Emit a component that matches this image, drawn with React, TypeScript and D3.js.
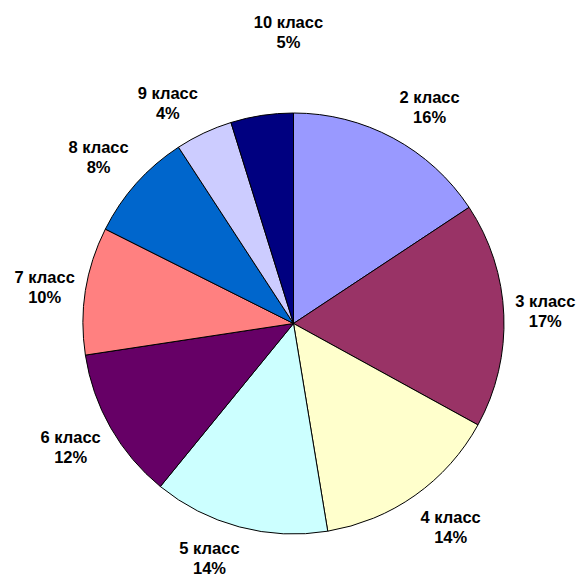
import React, { useEffect, useRef } from 'react';
import * as d3 from 'd3';

const classes = ['2 класс', '3 класс', '4 класс', '5 класс', '6 класс', '7 класс', '8 класс', '9 класс', '10 класс'];
// shares in percent (labels show them rounded)
const shares = [15.7, 17.3, 14.4, 13.5, 11.7, 9.8, 8.4, 4.4, 4.8];
const colors = ['#9999FF', '#993366', '#FFFFCC', '#CCFFFF', '#660066', '#FF8080', '#0066CC', '#CCCCFF', '#000080'];
// small per-label adjustments from the centroid, like Excel's label placement
const labelNudge: [number, number][] = [
  [13, 13], [-8, -2], [7, -9], [-17, -17], [3, -5], [8, 4], [-1, 7], [-15, 15], [34, -34],
];

const W = 578;
const H = 574;

const App: React.FC = () => {
  const ref = useRef<SVGSVGElement>(null);

  useEffect(() => {
    if (!ref.current) return;
    const svg = d3.select(ref.current);
    svg.selectAll('*').remove();

    const cx = 293.5;
    const cy = 323.5;
    const r = 210.5;

    const data = classes.map((c, i) => ({ name: c, value: shares[i] }));
    const pie = d3.pie<any>().sort(null).value((d) => d.value);
    const arcs = pie(data);
    const arc = d3.arc<any>().innerRadius(0).outerRadius(r);
    const labelArc = d3.arc<any>().innerRadius(260).outerRadius(260);

    const g = svg.append('g').attr('transform', `translate(${cx},${cy})`);

    g.selectAll('path')
      .data(arcs)
      .enter()
      .append('path')
      .attr('d', arc)
      .attr('fill', (d: any) => colors[d.index])
      .attr('stroke', '#000')
      .attr('stroke-width', 1);

    const labels = g
      .selectAll('text')
      .data(arcs)
      .enter()
      .append('text')
      .attr('font-family', 'Arial, "Liberation Sans", sans-serif')
      .attr('font-weight', 'bold')
      .attr('font-size', 16.5)
      .attr('text-anchor', 'middle')
      .attr('transform', (d: any) => {
        const [x, y] = labelArc.centroid(d);
        const [nx, ny] = labelNudge[d.index];
        return `translate(${x + nx},${y + ny})`;
      });

    labels.append('tspan').attr('x', 0).attr('y', -4).text((d: any) => d.data.name);
    labels.append('tspan').attr('x', 0).attr('y', 16).text((d: any) => `${Math.round(d.data.value)}%`);
  }, []);

  return (
    <svg
      ref={ref}
      width={W}
      height={H}
      style={{ position: 'absolute', left: 0, top: 0, display: 'block', background: '#fff' }}
    ></svg>
  );
};

export default App;
